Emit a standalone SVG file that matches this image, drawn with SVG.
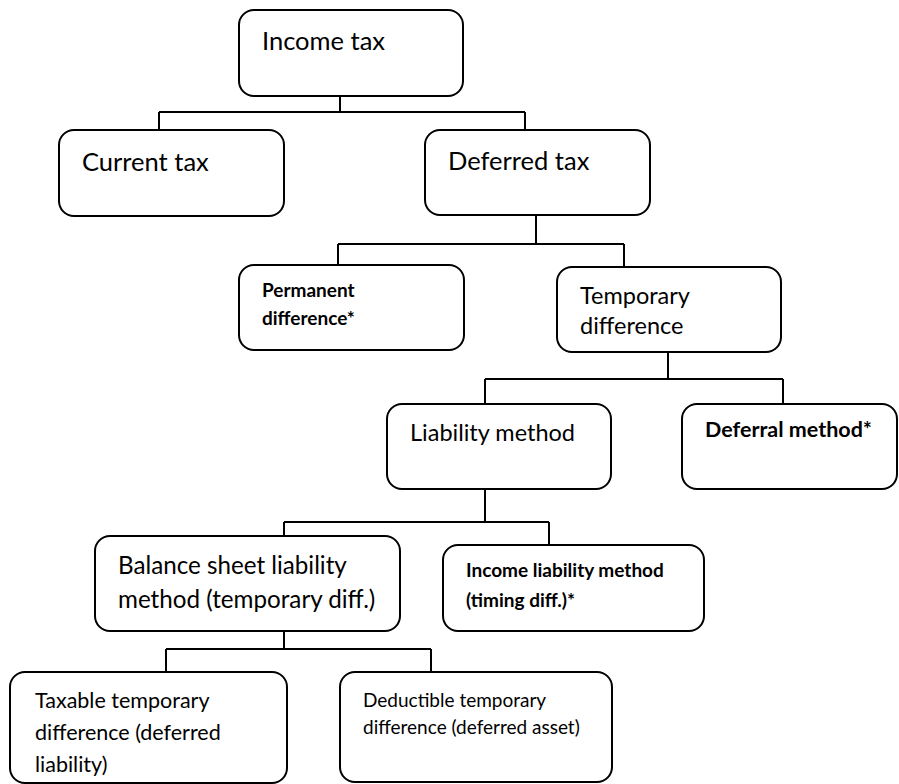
<svg xmlns="http://www.w3.org/2000/svg" width="899" height="784" viewBox="0 0 899 784">
<style>
.box{fill:#fff;stroke:#000;stroke-width:2}
.ln{stroke:#000;stroke-width:2;fill:none}
text{font-family:Lato,"Open Sans","Liberation Sans",sans-serif;fill:#000}
.t1{font-size:25.5px}
.t2{font-size:23.5px}
.t2b{font-size:24.2px}
.t3{font-size:21.5px}
.t4{font-size:19px}
.b1{font-size:21.5px;font-weight:bold}
.b2{font-size:19px;font-weight:bold}
</style>
<rect width="899" height="784" fill="#fff"/>
<g id="connectors">
<path class="ln" d="M340,96V112M159,112H525M159,112V130M525,112V130"/>
<path class="ln" d="M536,215V244M338,244H624M338,244V265M624,244V267"/>
<path class="ln" d="M668,352V379M485,379H783M485,379V404M783,379V404"/>
<path class="ln" d="M485,489V522M284,522H549M284,522V536M549,522V545"/>
<path class="ln" d="M284,631V649M166,649H431M166,649V672M431,649V672"/>
</g>
<g id="income-tax"><rect class="box" x="239" y="10" width="224" height="86" rx="15"/><text class="t1" x="262" y="50">Income tax</text></g>
<g id="current-tax"><rect class="box" x="59" y="130" width="225" height="86" rx="15"/><text class="t1" x="82" y="171">Current tax</text></g>
<g id="deferred-tax"><rect class="box" x="425" y="130" width="225" height="85" rx="15"/><text class="t1" x="448" y="170">Deferred tax</text></g>
<g id="permanent-difference"><rect class="box" x="239" y="265" width="225" height="85" rx="15"/><text class="b2" x="262" y="297">Permanent</text><text class="b2" x="262" y="325">difference*</text></g>
<g id="temporary-difference"><rect class="box" x="557" y="267" width="224" height="85" rx="15"/><text class="t2" x="580" y="304">Temporary</text><text class="t2" x="580" y="334">difference</text></g>
<g id="liability-method"><rect class="box" x="387" y="404" width="224" height="85" rx="15"/><text class="t2" x="410" y="441">Liability method</text></g>
<g id="deferral-method"><rect class="box" x="682" y="404" width="215" height="85" rx="15"/><text class="b1" x="705" y="437">Deferral method*</text></g>
<g id="balance-sheet-liability-method"><rect class="box" x="95" y="536" width="305" height="95" rx="15"/><text class="t2b" x="118" y="574">Balance sheet liability</text><text class="t2b" x="118" y="608">method (temporary diff.)</text></g>
<g id="income-liability-method"><rect class="box" x="443" y="545" width="261" height="86" rx="15"/><text class="b2" x="466" y="577">Income liability method</text><text class="b2" x="466" y="607">(timing diff.)*</text></g>
<g id="taxable-temporary-difference"><rect class="box" x="10" y="672" width="277" height="111" rx="15"/><text class="t3" x="35" y="708">Taxable temporary</text><text class="t3" x="35" y="740">difference (deferred</text><text class="t3" x="35" y="772">liability)</text></g>
<g id="deductible-temporary-difference"><rect class="box" x="340" y="672" width="272" height="110" rx="15"/><text class="t4" x="363" y="707">Deductible temporary</text><text class="t4" x="363" y="734">difference (deferred asset)</text></g>
</svg>
